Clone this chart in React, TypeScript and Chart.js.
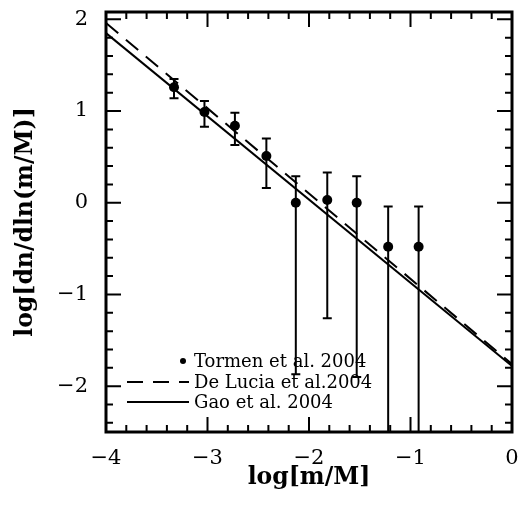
import React, { useEffect, useRef } from "react";
import { Chart, registerables } from "chart.js";

Chart.register(...registerables);

// ---- data ----
const massBins = [-3.33, -3.03, -2.73, -2.42, -2.13, -1.82, -1.53, -1.22, -0.92];
const tormenValues = [1.26, 0.99, 0.84, 0.51, 0.0, 0.03, 0.0, -0.48, -0.48];
const tormenUpper = [1.35, 1.11, 0.98, 0.7, 0.29, 0.33, 0.29, -0.04, -0.04];
const tormenLower = [1.14, 0.83, 0.63, 0.16, -1.87, -1.26, -1.9, -3.0, -3.0];
const fitX = [-4, 0];
const deLuciaFit = [1.96, -1.76];
const gaoFit = [1.85, -1.78];
const xTickValues = [-4, -3, -2, -1, 0];
const yTickValues = [-2, -1, 0, 1, 2];
const seriesLabels = ["Tormen et al. 2004", "De Lucia et al.2004", "Gao et al. 2004"];
const xTitle = "log[m/M]";
const yTitle = "log[dn/dln(m/M)]";

const FONT = "'DejaVu Serif', serif";
const fmt = (v: number) => (v < 0 ? "\u2212" + Math.abs(v) : String(v));

const framePlugin = {
  id: "frameTicks",
  afterDraw(chart: any) {
    const { ctx, chartArea: a, scales } = chart;
    const xs = scales.x;
    const ys = scales.y;
    ctx.save();
    ctx.strokeStyle = "#000";
    ctx.lineWidth = 2;
    const step = 0.2;
    const major = 15;
    const minor = 7;
    for (let k = Math.ceil(xs.min / step - 1e-6); k * step <= xs.max + 1e-6; k++) {
      const v = k * step;
      const isMajor = Math.abs(v - Math.round(v)) < 1e-6;
      const len = isMajor ? major : minor;
      const px = xs.getPixelForValue(v);
      ctx.beginPath();
      ctx.moveTo(px, a.bottom);
      ctx.lineTo(px, a.bottom - len);
      ctx.moveTo(px, a.top);
      ctx.lineTo(px, a.top + len);
      ctx.stroke();
    }
    for (let k = Math.ceil(ys.min / step - 1e-6); k * step <= ys.max + 1e-6; k++) {
      const v = k * step;
      const isMajor = Math.abs(v - Math.round(v)) < 1e-6;
      const len = isMajor ? major : minor;
      const py = ys.getPixelForValue(v);
      ctx.beginPath();
      ctx.moveTo(a.left, py);
      ctx.lineTo(a.left + len, py);
      ctx.moveTo(a.right, py);
      ctx.lineTo(a.right - len, py);
      ctx.stroke();
    }
    ctx.lineWidth = 3;
    ctx.strokeRect(a.left, a.top, a.right - a.left, a.bottom - a.top);
    ctx.restore();
  },
};

const errorBarPlugin = {
  id: "errorBars",
  afterDatasetsDraw(chart: any) {
    const { ctx, chartArea: a, scales } = chart;
    const xs = scales.x;
    const ys = scales.y;
    ctx.save();
    ctx.beginPath();
    ctx.rect(a.left, a.top, a.right - a.left, a.bottom - a.top);
    ctx.clip();
    ctx.strokeStyle = "#000";
    ctx.lineWidth = 2;
    const cap = 4.5;
    massBins.forEach((x, i) => {
      const px = xs.getPixelForValue(x);
      const top = ys.getPixelForValue(tormenUpper[i]);
      const bot = ys.getPixelForValue(tormenLower[i]);
      ctx.beginPath();
      ctx.moveTo(px, top);
      ctx.lineTo(px, bot);
      ctx.moveTo(px - cap, top);
      ctx.lineTo(px + cap, top);
      if (bot < a.bottom) {
        ctx.moveTo(px - cap, bot);
        ctx.lineTo(px + cap, bot);
      }
      ctx.stroke();
    });
    ctx.restore();
  },
};

const legendPlugin = {
  id: "innerLegend",
  afterDraw(chart: any) {
    const { ctx, chartArea: a } = chart;
    ctx.save();
    ctx.fillStyle = "#000";
    ctx.strokeStyle = "#000";
    ctx.font = `18px ${FONT}`;
    ctx.textBaseline = "middle";
    ctx.textAlign = "left";
    const textX = a.left + 88;
    const rows = [a.top + 349, a.top + 370, a.top + 390];
    ctx.beginPath();
    ctx.arc(a.left + 77, rows[0], 3, 0, Math.PI * 2);
    ctx.fill();
    ctx.lineWidth = 2;
    ctx.setLineDash([16, 10]);
    ctx.beginPath();
    ctx.moveTo(a.left + 21, rows[1]);
    ctx.lineTo(a.left + 83, rows[1]);
    ctx.stroke();
    ctx.setLineDash([]);
    ctx.beginPath();
    ctx.moveTo(a.left + 21, rows[2]);
    ctx.lineTo(a.left + 83, rows[2]);
    ctx.stroke();
    seriesLabels.forEach((t, i) => ctx.fillText(t, textX, rows[i] + 1));
    ctx.restore();
  },
};

export default function App() {
  const ref = useRef<HTMLCanvasElement | null>(null);
  useEffect(() => {
    if (!ref.current) return;
    const chart = new Chart(ref.current, {
      type: "scatter",
      data: {
        datasets: [
          {
            label: seriesLabels[0],
            data: massBins.map((x, i) => ({ x, y: tormenValues[i] })),
            pointRadius: 5,
            pointBackgroundColor: "#000",
            pointBorderColor: "#000",
            borderWidth: 0,
            showLine: false,
          },
          {
            label: seriesLabels[1],
            data: fitX.map((x, i) => ({ x, y: deLuciaFit[i] })),
            showLine: true,
            borderColor: "#000",
            borderWidth: 2,
            borderDash: [16, 10],
            pointRadius: 0,
          },
          {
            label: seriesLabels[2],
            data: fitX.map((x, i) => ({ x, y: gaoFit[i] })),
            showLine: true,
            borderColor: "#000",
            borderWidth: 2,
            pointRadius: 0,
          },
        ],
      },
      options: {
        animation: false,
        responsive: false,
        maintainAspectRatio: false,
        layout: { padding: { top: 12, right: 8, left: 0, bottom: 0 } },
        plugins: { legend: { display: false }, tooltip: { enabled: false } },
        scales: {
          x: {
            type: "linear",
            min: -4,
            max: 0,
            grid: { display: false, drawTicks: false },
            border: { display: false },
            afterBuildTicks: (s: any) => {
              s.ticks = xTickValues.map((v) => ({ value: v }));
            },
            afterFit: (s: any) => {
              s.height = 76;
              s.paddingLeft = 0;
              s.paddingRight = 0;
              s.paddingTop = 0;
              s.paddingBottom = 0;
            },
            ticks: {
              padding: 14,
              color: "#000",
              font: { family: FONT, size: 21 },
              callback: (v: any) => fmt(Number(v)),
              maxRotation: 0,
              autoSkip: false,
            },
            title: {
              display: true,
              text: xTitle,
              color: "#000",
              font: { family: FONT, size: 23.5, weight: "bold" },
              padding: { top: 0, bottom: 16 },
            },
          },
          y: {
            type: "linear",
            min: -2.5,
            max: 2.08,
            grid: { display: false, drawTicks: false },
            border: { display: false },
            afterBuildTicks: (s: any) => {
              s.ticks = yTickValues.map((v) => ({ value: v }));
            },
            afterFit: (s: any) => {
              s.width = 106;
              s.paddingLeft = 0;
              s.paddingRight = 0;
              s.paddingTop = 0;
              s.paddingBottom = 0;
            },
            ticks: {
              padding: 18,
              color: "#000",
              font: { family: FONT, size: 21 },
              callback: (v: any) => fmt(Number(v)),
              autoSkip: false,
            },
            title: {
              display: true,
              text: yTitle,
              color: "#000",
              font: { family: FONT, size: 23.5, weight: "bold" },
              padding: { top: 12, bottom: 0 },
            },
          },
        },
      },
      plugins: [errorBarPlugin, framePlugin, legendPlugin],
    });
    return () => chart.destroy();
  }, []);
  return (
    <div style={{ position: "fixed", left: 0, top: 0, width: 520, height: 508, background: "#fff" }}>
      <canvas ref={ref} width={520} height={508} style={{ width: 520, height: 508 }} />
    </div>
  );
}
